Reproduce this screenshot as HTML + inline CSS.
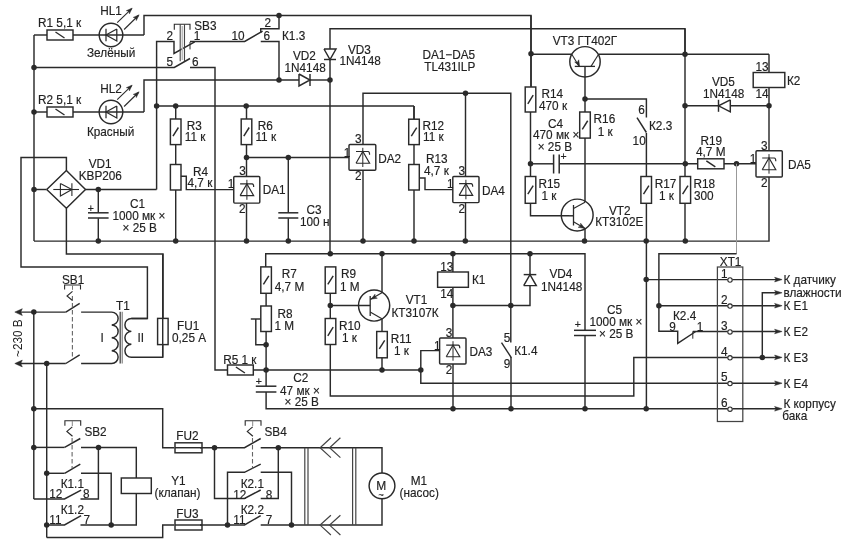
<!DOCTYPE html>
<html><head><meta charset="utf-8">
<style>
html,body{margin:0;padding:0;background:#fff;}
svg{display:block;font-family:"Liberation Sans",sans-serif;filter:blur(0.3px);}
</style></head>
<body>
<svg width="848" height="549" viewBox="0 0 848 549">
<rect x="0" y="0" width="848" height="549" fill="#fff"/>
<polyline points="34,35 34,241.1 34,241.1" fill="none" stroke="#2a2a2a" stroke-width="1.45"/>
<line x1="34" y1="35" x2="47" y2="35" stroke="#2a2a2a" stroke-width="1.45"/>
<rect x="47" y="30" width="26" height="10" fill="#fff" stroke="#2a2a2a" stroke-width="1.45"/>
<line x1="55.5" y1="32" x2="64.5" y2="38" stroke="#2a2a2a" stroke-width="1.45"/>
<line x1="73" y1="35" x2="144" y2="35" stroke="#2a2a2a" stroke-width="1.45"/>
<polyline points="144,35 144,15.5 531,15.5 531,86.5" fill="none" stroke="#2a2a2a" stroke-width="1.45"/>
<circle cx="111" cy="35" r="11.8" fill="none" stroke="#2a2a2a" stroke-width="1.45"/>
<line x1="106" y1="28.7" x2="106" y2="41.3" stroke="#2a2a2a" stroke-width="1.25"/>
<polyline points="116.8,29 106,35 116.8,41 116.8,29" fill="none" stroke="#2a2a2a" stroke-width="1.25"/>
<line x1="117.2" y1="22.7" x2="131.5" y2="8.8" stroke="#2a2a2a" stroke-width="1.1"/>
<polygon points="132.2,8.1 129.43,13.86 128.97,11.23 126.36,10.7" fill="#2a2a2a" stroke="#2a2a2a" stroke-width="0.5"/>
<line x1="124.1" y1="29.5" x2="138.4" y2="15.5" stroke="#2a2a2a" stroke-width="1.1"/>
<polygon points="139.1,14.8 136.33,20.56 135.87,17.93 133.26,17.4" fill="#2a2a2a" stroke="#2a2a2a" stroke-width="0.5"/>
<circle cx="34" cy="67.5" r="2.75" fill="#2a2a2a"/>
<polyline points="34,67.5 174.3,67.5 190,58.5" fill="none" stroke="#2a2a2a" stroke-width="1.45"/>
<line x1="34" y1="112" x2="47" y2="112" stroke="#2a2a2a" stroke-width="1.45"/>
<rect x="47" y="107" width="26" height="10" fill="#fff" stroke="#2a2a2a" stroke-width="1.45"/>
<line x1="55.5" y1="109" x2="64.5" y2="115" stroke="#2a2a2a" stroke-width="1.45"/>
<line x1="73" y1="112" x2="144" y2="112" stroke="#2a2a2a" stroke-width="1.45"/>
<polyline points="144,112 144,80 299,80" fill="none" stroke="#2a2a2a" stroke-width="1.45"/>
<circle cx="111" cy="112" r="11.8" fill="none" stroke="#2a2a2a" stroke-width="1.45"/>
<line x1="106" y1="105.7" x2="106" y2="118.3" stroke="#2a2a2a" stroke-width="1.25"/>
<polyline points="116.8,106 106,112 116.8,118 116.8,106" fill="none" stroke="#2a2a2a" stroke-width="1.25"/>
<line x1="117.2" y1="99.7" x2="131.5" y2="85.8" stroke="#2a2a2a" stroke-width="1.1"/>
<polygon points="132.2,85.1 129.43,90.86 128.97,88.23 126.36,87.7" fill="#2a2a2a" stroke="#2a2a2a" stroke-width="0.5"/>
<line x1="124.1" y1="106.5" x2="138.4" y2="92.5" stroke="#2a2a2a" stroke-width="1.1"/>
<polygon points="139.1,91.8 136.33,97.56 135.87,94.93 133.26,94.4" fill="#2a2a2a" stroke="#2a2a2a" stroke-width="0.5"/>
<circle cx="34" cy="112" r="2.75" fill="#2a2a2a"/>
<polyline points="156.6,189.5 156.6,41.5 174,41.5 174,53.4 194.7,41.9" fill="none" stroke="#2a2a2a" stroke-width="1.45"/>
<line x1="190" y1="41.9" x2="190" y2="49.4" stroke="#2a2a2a" stroke-width="1"/>
<polyline points="190,41.5 244.7,41.5 262.6,31.1" fill="none" stroke="#2a2a2a" stroke-width="1.45"/>
<polyline points="190,67.5 215,67.5 215,370 227.5,370" fill="none" stroke="#2a2a2a" stroke-width="1.45"/>
<line x1="180.2" y1="24.5" x2="180.2" y2="61.2" stroke="#444" stroke-width="1.1"/>
<line x1="184.5" y1="24.5" x2="184.5" y2="61.2" stroke="#444" stroke-width="1.1"/>
<line x1="182.35" y1="26" x2="182.35" y2="60" stroke="#bbb" stroke-width="1.6"/>
<polyline points="174.3,29.8 174.3,24.2 190,24.2 190,29.8" fill="none" stroke="#2a2a2a" stroke-width="1.1"/>
<polyline points="279,15.5 279,28.7 260.75,28.7 260.75,33" fill="none" stroke="#2a2a2a" stroke-width="1.45"/>
<polyline points="260.75,41.5 279,41.5 279,80" fill="none" stroke="#2a2a2a" stroke-width="1.45"/>
<circle cx="279" cy="15.5" r="2.75" fill="#2a2a2a"/>
<circle cx="279" cy="80" r="2.75" fill="#2a2a2a"/>
<line x1="310" y1="80" x2="330" y2="80" stroke="#2a2a2a" stroke-width="1.45"/>
<polyline points="299,74 310,80 299,86 299,74" fill="#fff" stroke="#2a2a2a" stroke-width="1.45"/>
<line x1="310" y1="74" x2="310" y2="86" stroke="#2a2a2a" stroke-width="1.45"/>
<circle cx="330" cy="80" r="2.75" fill="#2a2a2a"/>
<polyline points="685,54 685,28.7 330,28.7 330,253.25" fill="none" stroke="#2a2a2a" stroke-width="1.45"/>
<polyline points="324,49 330,59.5 336,49 324,49" fill="#fff" stroke="#2a2a2a" stroke-width="1.45"/>
<line x1="324" y1="59.5" x2="336" y2="59.5" stroke="#2a2a2a" stroke-width="1.45"/>
<line x1="156.6" y1="106" x2="414" y2="106" stroke="#2a2a2a" stroke-width="1.45"/>
<circle cx="156.6" cy="106" r="2.75" fill="#2a2a2a"/>
<circle cx="175.7" cy="106" r="2.75" fill="#2a2a2a"/>
<circle cx="246.2" cy="106" r="2.75" fill="#2a2a2a"/>
<line x1="414" y1="106" x2="414" y2="119.2" stroke="#2a2a2a" stroke-width="1.45"/>
<polyline points="363,144.5 363,93.2 510.8,93.2 510.8,342.6" fill="none" stroke="#2a2a2a" stroke-width="1.45"/>
<circle cx="465.5" cy="93.2" r="2.75" fill="#2a2a2a"/>
<line x1="175.7" y1="106" x2="175.7" y2="241.1" stroke="#2a2a2a" stroke-width="1.45"/>
<rect x="170.4" y="119" width="10.6" height="25.6" fill="#fff" stroke="#2a2a2a" stroke-width="1.45"/>
<line x1="173" y1="136.1" x2="178.4" y2="127.5" stroke="#2a2a2a" stroke-width="1.45"/>
<rect x="170.4" y="164.5" width="10.6" height="25.5" fill="#fff" stroke="#2a2a2a" stroke-width="1.45"/>
<polyline points="180.9,176.3 186.3,176.3 186.3,189.6 233.75,189.6" fill="none" stroke="#2a2a2a" stroke-width="1.45"/>
<line x1="34" y1="189.5" x2="46.7" y2="189.5" stroke="#2a2a2a" stroke-width="1.45"/>
<polyline points="46.7,189.5 66.4,170.4 85.5,189.5 66.4,208.3 46.7,189.5" fill="none" stroke="#2a2a2a" stroke-width="1.45"/>
<line x1="53.3" y1="189.5" x2="79" y2="189.5" stroke="#2a2a2a" stroke-width="1.1"/>
<polyline points="60.4,183.5 71.9,189.5 60.4,196 60.4,183.5" fill="none" stroke="#2a2a2a" stroke-width="1.1"/>
<line x1="71.9" y1="183.3" x2="71.9" y2="196" stroke="#2a2a2a" stroke-width="1.1"/>
<circle cx="34" cy="189.5" r="2.75" fill="#2a2a2a"/>
<polyline points="66.4,170.4 66.4,157.5 21,157.5 21,267 147.4,267 147.4,318.4 131.4,318.4" fill="none" stroke="#2a2a2a" stroke-width="1.45"/>
<polyline points="66.4,208.3 66.4,253.9 163,253.9 163,318.4" fill="none" stroke="#2a2a2a" stroke-width="1.45"/>
<polyline points="85.5,189.5 156.6,189.5" fill="none" stroke="#2a2a2a" stroke-width="1.45"/>
<circle cx="98.3" cy="189.5" r="2.75" fill="#2a2a2a"/>
<line x1="98.3" y1="189.5" x2="98.3" y2="212.5" stroke="#2a2a2a" stroke-width="1.45"/>
<line x1="98.3" y1="218.3" x2="98.3" y2="241.1" stroke="#2a2a2a" stroke-width="1.45"/>
<line x1="88" y1="212.8" x2="108.6" y2="212.8" stroke="#2a2a2a" stroke-width="1.5"/>
<line x1="88" y1="218" x2="108.6" y2="218" stroke="#2a2a2a" stroke-width="1.5"/>
<text transform="translate(87.8,211.5) scale(1,1.05)" font-size="10.5" fill="#222" stroke="#222" stroke-width="0.15">+</text>
<polyline points="34,241.1 769,241.1 769,177" fill="none" stroke="#2a2a2a" stroke-width="1.45"/>
<circle cx="98.3" cy="241.1" r="2.75" fill="#2a2a2a"/>
<circle cx="175.7" cy="241.1" r="2.75" fill="#2a2a2a"/>
<circle cx="246.5" cy="241.1" r="2.75" fill="#2a2a2a"/>
<circle cx="288.3" cy="241.1" r="2.75" fill="#2a2a2a"/>
<circle cx="363" cy="241.1" r="2.75" fill="#2a2a2a"/>
<circle cx="414" cy="241.1" r="2.75" fill="#2a2a2a"/>
<circle cx="465.3" cy="241.1" r="2.75" fill="#2a2a2a"/>
<circle cx="584.5" cy="241.1" r="2.75" fill="#2a2a2a"/>
<circle cx="646.2" cy="241.1" r="2.75" fill="#2a2a2a"/>
<circle cx="685.3" cy="241.1" r="2.75" fill="#2a2a2a"/>
<line x1="246.5" y1="106" x2="246.5" y2="176.5" stroke="#2a2a2a" stroke-width="1.45"/>
<rect x="241.2" y="119" width="10.6" height="25.6" fill="#fff" stroke="#2a2a2a" stroke-width="1.45"/>
<line x1="243.8" y1="136.1" x2="249.2" y2="127.5" stroke="#2a2a2a" stroke-width="1.45"/>
<line x1="246.5" y1="203" x2="246.5" y2="241.1" stroke="#2a2a2a" stroke-width="1.45"/>
<rect x="233.75" y="176.5" width="26.05" height="26.6" rx="1" fill="#fff" stroke="#2a2a2a" stroke-width="1.45"/>
<line x1="246.9" y1="179.8" x2="246.9" y2="199.8" stroke="#2a2a2a" stroke-width="1"/>
<polyline points="240.1,195.6 246.9,183.9 253.7,195.6 240.1,195.6" fill="none" stroke="#2a2a2a" stroke-width="1.15"/>
<path d="M240.1,183.9 L252.2,183.9 Q253.7,183.9 253.7,187.1" fill="none" stroke="#2a2a2a" stroke-width="1.15"/>
<line x1="246.5" y1="157.4" x2="349" y2="157.4" stroke="#2a2a2a" stroke-width="1.45"/>
<circle cx="246.5" cy="157.4" r="2.75" fill="#2a2a2a"/>
<circle cx="288.3" cy="157.4" r="2.75" fill="#2a2a2a"/>
<line x1="288.3" y1="157.4" x2="288.3" y2="212.5" stroke="#2a2a2a" stroke-width="1.45"/>
<line x1="288.3" y1="218.3" x2="288.3" y2="241.1" stroke="#2a2a2a" stroke-width="1.45"/>
<line x1="278.3" y1="212.8" x2="298.3" y2="212.8" stroke="#2a2a2a" stroke-width="1.5"/>
<line x1="278.3" y1="218" x2="298.3" y2="218" stroke="#2a2a2a" stroke-width="1.5"/>
<rect x="349" y="144.5" width="26.8" height="25.8" rx="1" fill="#fff" stroke="#2a2a2a" stroke-width="1.45"/>
<line x1="362.8" y1="147.8" x2="362.8" y2="167" stroke="#2a2a2a" stroke-width="1"/>
<polyline points="356,163.2 362.8,151.5 369.6,163.2 356,163.2" fill="none" stroke="#2a2a2a" stroke-width="1.15"/>
<path d="M356,151.5 L368.1,151.5 Q369.6,151.5 369.6,154.7" fill="none" stroke="#2a2a2a" stroke-width="1.15"/>
<line x1="363" y1="170.3" x2="363" y2="241.1" stroke="#2a2a2a" stroke-width="1.45"/>
<line x1="414" y1="106" x2="414" y2="241.1" stroke="#2a2a2a" stroke-width="1.45"/>
<rect x="408.7" y="119.2" width="10.6" height="25.4" fill="#fff" stroke="#2a2a2a" stroke-width="1.45"/>
<line x1="411.3" y1="136.2" x2="416.7" y2="127.6" stroke="#2a2a2a" stroke-width="1.45"/>
<rect x="408.7" y="164.5" width="10.6" height="25.5" fill="#fff" stroke="#2a2a2a" stroke-width="1.45"/>
<polyline points="419.3,178 425,178 425,189.6 452.8,189.6" fill="none" stroke="#2a2a2a" stroke-width="1.45"/>
<line x1="465.5" y1="93.2" x2="465.5" y2="176.5" stroke="#2a2a2a" stroke-width="1.45"/>
<line x1="465.5" y1="202.5" x2="465.5" y2="241.1" stroke="#2a2a2a" stroke-width="1.45"/>
<rect x="452.8" y="176.5" width="26.2" height="26.1" rx="1" fill="#fff" stroke="#2a2a2a" stroke-width="1.45"/>
<line x1="465.9" y1="179.8" x2="465.9" y2="199.3" stroke="#2a2a2a" stroke-width="1"/>
<polyline points="459.1,195.35 465.9,183.65 472.7,195.35 459.1,195.35" fill="none" stroke="#2a2a2a" stroke-width="1.15"/>
<path d="M459.1,183.65 L471.2,183.65 Q472.7,183.65 472.7,186.85" fill="none" stroke="#2a2a2a" stroke-width="1.15"/>
<line x1="531" y1="15.5" x2="531" y2="87" stroke="#2a2a2a" stroke-width="1.45"/>
<rect x="525.2" y="87" width="10.6" height="25" fill="#fff" stroke="#2a2a2a" stroke-width="1.45"/>
<line x1="527.8" y1="103.8" x2="533.2" y2="95.2" stroke="#2a2a2a" stroke-width="1.45"/>
<polyline points="530.5,112 530.5,176.5" fill="none" stroke="#2a2a2a" stroke-width="1.45"/>
<rect x="525.2" y="176.5" width="10.6" height="26.8" fill="#fff" stroke="#2a2a2a" stroke-width="1.45"/>
<line x1="527.8" y1="194.2" x2="533.2" y2="185.6" stroke="#2a2a2a" stroke-width="1.45"/>
<polyline points="530.5,203.3 530.5,215.8 569,215.8" fill="none" stroke="#2a2a2a" stroke-width="1.45"/>
<circle cx="531" cy="53.8" r="2.75" fill="#2a2a2a"/>
<circle cx="530.5" cy="163.8" r="2.75" fill="#2a2a2a"/>
<line x1="530.5" y1="163.8" x2="553.3" y2="163.8" stroke="#2a2a2a" stroke-width="1.45"/>
<line x1="553.6" y1="154.5" x2="553.6" y2="173.5" stroke="#2a2a2a" stroke-width="1.5"/>
<line x1="559.2" y1="154.5" x2="559.2" y2="173.5" stroke="#2a2a2a" stroke-width="1.5"/>
<line x1="559.2" y1="163.8" x2="756" y2="163.8" stroke="#2a2a2a" stroke-width="1.45"/>
<text transform="translate(560.5,159.8) scale(1,1.05)" font-size="10.5" fill="#222" stroke="#222" stroke-width="0.15">+</text>
<circle cx="585" cy="61.8" r="15.2" fill="none" stroke="#2a2a2a" stroke-width="1.45"/>
<line x1="531" y1="54.3" x2="571.8" y2="54.3" stroke="#2a2a2a" stroke-width="1.45"/>
<line x1="598.6" y1="54.3" x2="769" y2="54.3" stroke="#2a2a2a" stroke-width="1.45"/>
<line x1="574.8" y1="66.4" x2="595" y2="66.4" stroke="#2a2a2a" stroke-width="1.3"/>
<line x1="571.8" y1="54.3" x2="579" y2="66.2" stroke="#2a2a2a" stroke-width="1.1"/>
<polygon points="579.6,66.2 574.69,62.05 577.43,62.26 578.72,59.83" fill="#2a2a2a" stroke="#2a2a2a" stroke-width="0.5"/>
<line x1="591" y1="66.4" x2="598.6" y2="54.3" stroke="#2a2a2a" stroke-width="1.1"/>
<line x1="585" y1="66.4" x2="585" y2="138" stroke="#2a2a2a" stroke-width="1.45"/>
<circle cx="585" cy="99" r="2.75" fill="#2a2a2a"/>
<polyline points="585,99 646.4,99 646.4,117.4" fill="none" stroke="#2a2a2a" stroke-width="1.45"/>
<rect x="579.7" y="112" width="10.6" height="26.1" fill="#fff" stroke="#2a2a2a" stroke-width="1.45"/>
<line x1="582.3" y1="129.35" x2="587.7" y2="120.75" stroke="#2a2a2a" stroke-width="1.45"/>
<line x1="585" y1="138.1" x2="585" y2="202.2" stroke="#2a2a2a" stroke-width="1.45"/>
<circle cx="577.2" cy="215" r="15.9" fill="none" stroke="#2a2a2a" stroke-width="1.45"/>
<line x1="569" y1="215.8" x2="573.5" y2="215.8" stroke="#2a2a2a" stroke-width="1.45"/>
<line x1="573.5" y1="205" x2="573.5" y2="225.5" stroke="#2a2a2a" stroke-width="1.3"/>
<line x1="573.5" y1="208.5" x2="585" y2="202.2" stroke="#2a2a2a" stroke-width="1.1"/>
<line x1="573.5" y1="221.8" x2="585" y2="228.5" stroke="#2a2a2a" stroke-width="1.1"/>
<polygon points="585,228.5 578.17,227.31 580.67,225.99 580.58,223.16" fill="#2a2a2a" stroke="#2a2a2a" stroke-width="0.5"/>
<line x1="585" y1="228.5" x2="585" y2="241.1" stroke="#2a2a2a" stroke-width="1.45"/>
<line x1="637" y1="117.7" x2="646.4" y2="132.5" stroke="#2a2a2a" stroke-width="1.45"/>
<line x1="646.4" y1="133" x2="646.4" y2="409" stroke="#2a2a2a" stroke-width="1.45"/>
<rect x="640.9" y="176.5" width="10.6" height="26.8" fill="#fff" stroke="#2a2a2a" stroke-width="1.45"/>
<line x1="643.5" y1="194.2" x2="648.9" y2="185.6" stroke="#2a2a2a" stroke-width="1.45"/>
<polyline points="685,28.7 685,241.1" fill="none" stroke="#2a2a2a" stroke-width="1.45"/>
<circle cx="685" cy="54.3" r="2.75" fill="#2a2a2a"/>
<circle cx="685" cy="105.8" r="2.75" fill="#2a2a2a"/>
<circle cx="685.3" cy="163.8" r="2.75" fill="#2a2a2a"/>
<rect x="680" y="176.5" width="10.6" height="26.8" fill="#fff" stroke="#2a2a2a" stroke-width="1.45"/>
<line x1="682.6" y1="194.2" x2="688" y2="185.6" stroke="#2a2a2a" stroke-width="1.45"/>
<polyline points="769,54.3 769,72.5" fill="none" stroke="#2a2a2a" stroke-width="1.45"/>
<rect x="753.2" y="72.5" width="31.6" height="15" fill="#fff" stroke="#2a2a2a" stroke-width="1.45"/>
<line x1="769" y1="87.5" x2="769" y2="150.8" stroke="#2a2a2a" stroke-width="1.45"/>
<circle cx="769" cy="105.8" r="2.75" fill="#2a2a2a"/>
<line x1="685" y1="105.8" x2="718.5" y2="105.8" stroke="#2a2a2a" stroke-width="1.45"/>
<line x1="730" y1="105.8" x2="769" y2="105.8" stroke="#2a2a2a" stroke-width="1.45"/>
<polyline points="730.3,99.8 718.5,105.8 730.3,111.8 730.3,99.8" fill="#fff" stroke="#2a2a2a" stroke-width="1.45"/>
<line x1="718.5" y1="99.8" x2="718.5" y2="111.8" stroke="#2a2a2a" stroke-width="1.45"/>
<rect x="697.7" y="158.8" width="26.3" height="10" fill="#fff" stroke="#2a2a2a" stroke-width="1.45"/>
<line x1="706.35" y1="160.8" x2="715.35" y2="166.8" stroke="#2a2a2a" stroke-width="1.45"/>
<circle cx="736.5" cy="163.8" r="2.75" fill="#2a2a2a"/>
<rect x="756" y="150.8" width="26.3" height="26.2" rx="1" fill="#fff" stroke="#2a2a2a" stroke-width="1.45"/>
<line x1="769" y1="154.1" x2="769" y2="173.7" stroke="#2a2a2a" stroke-width="1"/>
<polyline points="762.2,169.7 769,158 775.8,169.7 762.2,169.7" fill="none" stroke="#2a2a2a" stroke-width="1.15"/>
<path d="M762.2,158 L774.3,158 Q775.8,158 775.8,161.2" fill="none" stroke="#2a2a2a" stroke-width="1.15"/>
<line x1="736.5" y1="163.8" x2="736.5" y2="253.8" stroke="#999" stroke-width="1"/>
<polyline points="736.5,253.8 658.9,253.8 658.9,331.3 677.7,331.3 677.7,343.4 695.7,331.5" fill="none" stroke="#2a2a2a" stroke-width="1.45"/>
<polyline points="265.7,266.9 265.7,253.7 585,253.7 585,330" fill="none" stroke="#2a2a2a" stroke-width="1.45"/>
<circle cx="330.3" cy="253.7" r="2.75" fill="#2a2a2a"/>
<circle cx="382" cy="253.7" r="2.75" fill="#2a2a2a"/>
<circle cx="452.9" cy="253.7" r="2.75" fill="#2a2a2a"/>
<circle cx="530" cy="253.7" r="2.75" fill="#2a2a2a"/>
<rect x="260.8" y="266.9" width="10.6" height="26.4" fill="#fff" stroke="#2a2a2a" stroke-width="1.45"/>
<line x1="263.4" y1="284.4" x2="268.8" y2="275.8" stroke="#2a2a2a" stroke-width="1.45"/>
<line x1="266.1" y1="293.3" x2="266.1" y2="306" stroke="#2a2a2a" stroke-width="1.45"/>
<rect x="260.8" y="306" width="10.6" height="25.5" fill="#fff" stroke="#2a2a2a" stroke-width="1.45"/>
<line x1="266.1" y1="331.5" x2="266.1" y2="386" stroke="#2a2a2a" stroke-width="1.45"/>
<polyline points="260.5,319 250.8,319" fill="none" stroke="#2a2a2a" stroke-width="1.45"/>
<polyline points="255.8,319 255.8,344.8 266.1,344.8" fill="none" stroke="#2a2a2a" stroke-width="1.45"/>
<circle cx="266.1" cy="344.8" r="2.75" fill="#2a2a2a"/>
<circle cx="266.1" cy="370" r="2.75" fill="#2a2a2a"/>
<rect x="325.2" y="266.9" width="10.6" height="26.4" fill="#fff" stroke="#2a2a2a" stroke-width="1.45"/>
<line x1="327.8" y1="284.4" x2="333.2" y2="275.8" stroke="#2a2a2a" stroke-width="1.45"/>
<line x1="330.3" y1="293.3" x2="330.3" y2="318.5" stroke="#2a2a2a" stroke-width="1.45"/>
<rect x="325.2" y="318.5" width="10.6" height="26" fill="#fff" stroke="#2a2a2a" stroke-width="1.45"/>
<line x1="327.8" y1="335.8" x2="333.2" y2="327.2" stroke="#2a2a2a" stroke-width="1.45"/>
<polyline points="330.3,344.5 330.3,396 633.8,396 633.8,357.4 727.7,357.4" fill="none" stroke="#2a2a2a" stroke-width="1.45"/>
<circle cx="330.3" cy="305.5" r="2.75" fill="#2a2a2a"/>
<line x1="330.3" y1="305.5" x2="370.2" y2="305.5" stroke="#2a2a2a" stroke-width="1.45"/>
<circle cx="374.1" cy="305.5" r="15.6" fill="none" stroke="#2a2a2a" stroke-width="1.45"/>
<line x1="370.2" y1="295.9" x2="370.2" y2="316" stroke="#2a2a2a" stroke-width="1.3"/>
<line x1="370.2" y1="299.6" x2="381.9" y2="292.8" stroke="#2a2a2a" stroke-width="1.1"/>
<polygon points="371,299.2 375.04,294.2 374.89,296.94 377.34,298.18" fill="#2a2a2a" stroke="#2a2a2a" stroke-width="0.5"/>
<line x1="370.2" y1="311.9" x2="381.9" y2="318.7" stroke="#2a2a2a" stroke-width="1.1"/>
<line x1="382" y1="253.7" x2="382" y2="292.8" stroke="#2a2a2a" stroke-width="1.45"/>
<line x1="382" y1="318.7" x2="382" y2="331.5" stroke="#2a2a2a" stroke-width="1.45"/>
<rect x="376.7" y="331.5" width="10.6" height="26.3" fill="#fff" stroke="#2a2a2a" stroke-width="1.45"/>
<line x1="379.3" y1="348.95" x2="384.7" y2="340.35" stroke="#2a2a2a" stroke-width="1.45"/>
<line x1="382" y1="357.8" x2="382" y2="370" stroke="#2a2a2a" stroke-width="1.45"/>
<circle cx="382" cy="370" r="2.75" fill="#2a2a2a"/>
<rect x="227.5" y="365" width="25.8" height="10" fill="#fff" stroke="#2a2a2a" stroke-width="1.45"/>
<line x1="235.9" y1="367" x2="244.9" y2="373" stroke="#2a2a2a" stroke-width="1.45"/>
<line x1="253.3" y1="370" x2="420.8" y2="370" stroke="#2a2a2a" stroke-width="1.45"/>
<circle cx="420.8" cy="370" r="2.75" fill="#2a2a2a"/>
<polyline points="439.6,350.6 420.8,350.6 420.8,383.2 727.7,383.2" fill="none" stroke="#2a2a2a" stroke-width="1.45"/>
<line x1="255.8" y1="386.2" x2="276.4" y2="386.2" stroke="#2a2a2a" stroke-width="1.5"/>
<line x1="255.8" y1="392" x2="276.4" y2="392" stroke="#2a2a2a" stroke-width="1.5"/>
<polyline points="266.1,392 266.1,408.8 727.7,408.8" fill="none" stroke="#2a2a2a" stroke-width="1.45"/>
<text transform="translate(255.8,384.8) scale(1,1.05)" font-size="10.5" fill="#222" stroke="#222" stroke-width="0.15">+</text>
<line x1="452.9" y1="253.7" x2="452.9" y2="272" stroke="#2a2a2a" stroke-width="1.45"/>
<rect x="437.6" y="272" width="30.8" height="15.3" fill="#fff" stroke="#2a2a2a" stroke-width="1.45"/>
<line x1="452.9" y1="287.3" x2="452.9" y2="338" stroke="#2a2a2a" stroke-width="1.45"/>
<circle cx="452.9" cy="305.4" r="2.75" fill="#2a2a2a"/>
<polyline points="452.9,305.4 530,305.4 530,253.7" fill="none" stroke="#2a2a2a" stroke-width="1.45"/>
<circle cx="510.8" cy="305.4" r="2.75" fill="#2a2a2a"/>
<polyline points="523.7,285.6 530,274.6 536.3,285.6 523.7,285.6" fill="#fff" stroke="#2a2a2a" stroke-width="1.45"/>
<line x1="523.7" y1="274.6" x2="536.3" y2="274.6" stroke="#2a2a2a" stroke-width="1.45"/>
<rect x="439.6" y="337.9" width="26.4" height="26.1" rx="1" fill="#fff" stroke="#2a2a2a" stroke-width="1.45"/>
<line x1="453" y1="341.2" x2="453" y2="360.7" stroke="#2a2a2a" stroke-width="1"/>
<polyline points="446.2,356.75 453,345.05 459.8,356.75 446.2,356.75" fill="none" stroke="#2a2a2a" stroke-width="1.15"/>
<path d="M446.2,345.05 L458.3,345.05 Q459.8,345.05 459.8,348.25" fill="none" stroke="#2a2a2a" stroke-width="1.15"/>
<line x1="453" y1="364" x2="453" y2="408.8" stroke="#2a2a2a" stroke-width="1.45"/>
<circle cx="453" cy="408.8" r="2.75" fill="#2a2a2a"/>
<line x1="501.5" y1="342.6" x2="511.3" y2="357.7" stroke="#2a2a2a" stroke-width="1.45"/>
<line x1="511" y1="357" x2="511" y2="408.8" stroke="#2a2a2a" stroke-width="1.45"/>
<circle cx="511" cy="408.8" r="2.75" fill="#2a2a2a"/>
<line x1="574" y1="330.3" x2="596" y2="330.3" stroke="#2a2a2a" stroke-width="1.5"/>
<line x1="574" y1="335.5" x2="596" y2="335.5" stroke="#2a2a2a" stroke-width="1.5"/>
<line x1="585" y1="335.5" x2="585" y2="408.8" stroke="#2a2a2a" stroke-width="1.45"/>
<circle cx="585" cy="408.8" r="2.75" fill="#2a2a2a"/>
<text transform="translate(574.8,328) scale(1,1.05)" font-size="10.5" fill="#222" stroke="#222" stroke-width="0.15">+</text>
<circle cx="646.2" cy="408.8" r="2.75" fill="#2a2a2a"/>
<circle cx="646.2" cy="279.6" r="2.75" fill="#2a2a2a"/>
<line x1="646.2" y1="279.6" x2="727.7" y2="279.6" stroke="#2a2a2a" stroke-width="1.45"/>
<circle cx="658.9" cy="305.7" r="2.75" fill="#2a2a2a"/>
<line x1="658.9" y1="305.7" x2="727.7" y2="305.7" stroke="#2a2a2a" stroke-width="1.45"/>
<line x1="692.8" y1="331.5" x2="727.7" y2="331.5" stroke="#2a2a2a" stroke-width="1.45"/>
<line x1="692.8" y1="331.5" x2="692.8" y2="338.7" stroke="#2a2a2a" stroke-width="1"/>
<rect x="717.4" y="267" width="25.4" height="154.5" fill="none" stroke="#444" stroke-width="1.25"/>
<circle cx="730" cy="280" r="2.2" fill="none" stroke="#2a2a2a" stroke-width="1.1"/>
<line x1="732.4" y1="279.6" x2="776" y2="279.6" stroke="#2a2a2a" stroke-width="1.45"/>
<polygon points="782.1,279.6 774.6,281.9 776.1,279.6 774.6,277.3" fill="#2a2a2a" stroke="#2a2a2a" stroke-width="0.5"/>
<circle cx="730" cy="306.1" r="2.2" fill="none" stroke="#2a2a2a" stroke-width="1.1"/>
<line x1="732.4" y1="305.7" x2="776" y2="305.7" stroke="#2a2a2a" stroke-width="1.45"/>
<polygon points="782.1,305.7 774.6,308 776.1,305.7 774.6,303.4" fill="#2a2a2a" stroke="#2a2a2a" stroke-width="0.5"/>
<circle cx="730" cy="331.9" r="2.2" fill="none" stroke="#2a2a2a" stroke-width="1.1"/>
<line x1="732.4" y1="331.5" x2="776" y2="331.5" stroke="#2a2a2a" stroke-width="1.45"/>
<polygon points="782.1,331.5 774.6,333.8 776.1,331.5 774.6,329.2" fill="#2a2a2a" stroke="#2a2a2a" stroke-width="0.5"/>
<circle cx="730" cy="357.8" r="2.2" fill="none" stroke="#2a2a2a" stroke-width="1.1"/>
<line x1="732.4" y1="357.4" x2="776" y2="357.4" stroke="#2a2a2a" stroke-width="1.45"/>
<polygon points="782.1,357.4 774.6,359.7 776.1,357.4 774.6,355.1" fill="#2a2a2a" stroke="#2a2a2a" stroke-width="0.5"/>
<circle cx="730" cy="383.6" r="2.2" fill="none" stroke="#2a2a2a" stroke-width="1.1"/>
<line x1="732.4" y1="383.2" x2="776" y2="383.2" stroke="#2a2a2a" stroke-width="1.45"/>
<polygon points="782.1,383.2 774.6,385.5 776.1,383.2 774.6,380.9" fill="#2a2a2a" stroke="#2a2a2a" stroke-width="0.5"/>
<circle cx="730" cy="409.2" r="2.2" fill="none" stroke="#2a2a2a" stroke-width="1.1"/>
<line x1="732.4" y1="408.8" x2="776" y2="408.8" stroke="#2a2a2a" stroke-width="1.45"/>
<polygon points="782.1,408.8 774.6,411.1 776.1,408.8 774.6,406.5" fill="#2a2a2a" stroke="#2a2a2a" stroke-width="0.5"/>
<polyline points="762.3,357.4 762.3,292.8 776,292.8" fill="none" stroke="#2a2a2a" stroke-width="1.45"/>
<polygon points="782.1,292.8 774.6,295.1 776.1,292.8 774.6,290.5" fill="#2a2a2a" stroke="#2a2a2a" stroke-width="0.5"/>
<circle cx="762.3" cy="357.4" r="2.75" fill="#2a2a2a"/>
<polygon points="14.8,312.1 22.3,308.7 20.8,312.1 22.3,315.5" fill="#2a2a2a" stroke="#2a2a2a" stroke-width="0.5"/>
<line x1="17" y1="312.1" x2="65.8" y2="312.1" stroke="#2a2a2a" stroke-width="1.45"/>
<line x1="65.8" y1="312.1" x2="79.7" y2="303.4" stroke="#2a2a2a" stroke-width="1.45"/>
<polygon points="14.8,363.5 22.3,360.1 20.8,363.5 22.3,366.9" fill="#2a2a2a" stroke="#2a2a2a" stroke-width="0.5"/>
<line x1="17" y1="363.5" x2="65.8" y2="363.5" stroke="#2a2a2a" stroke-width="1.45"/>
<line x1="65.8" y1="363.5" x2="79.7" y2="354.8" stroke="#2a2a2a" stroke-width="1.45"/>
<circle cx="33.8" cy="312.1" r="2.75" fill="#2a2a2a"/>
<circle cx="46.7" cy="363.5" r="2.75" fill="#2a2a2a"/>
<line x1="72.4" y1="296" x2="72.4" y2="358" stroke="#666" stroke-width="1.1" stroke-dasharray="4.5,2.5"/>
<polyline points="64.6,289.5 64.6,285 80.5,285 80.5,289.5" fill="none" stroke="#2a2a2a" stroke-width="1.1"/>
<polyline points="72.5,291.4 67,296 72.5,300.5" fill="none" stroke="#2a2a2a" stroke-width="1.1"/>
<line x1="72.5" y1="285.6" x2="72.5" y2="289.8" stroke="#777" stroke-width="1"/>
<path d="M81.1,312.1 L111.7,312.1 A6.42,6.42 0 0 1 111.7,324.95 A6.42,6.42 0 0 1 111.7,337.8 A6.42,6.42 0 0 1 111.7,350.65 A6.42,6.42 0 0 1 111.7,363.5 L81.1,363.5" fill="none" stroke="#2a2a2a" stroke-width="1.45"/>
<line x1="120.2" y1="311.8" x2="120.2" y2="363.5" stroke="#444" stroke-width="1.3"/>
<line x1="122.2" y1="311.8" x2="122.2" y2="363.5" stroke="#777" stroke-width="1.1"/>
<path d="M147.4,318.4 L131.4,318.4 A6.48,6.48 0 0 0 131.4,331.37 A6.48,6.48 0 0 0 131.4,344.34 A6.48,6.48 0 0 0 131.4,357.31 L162.7,357.3 L162.7,344.6" fill="none" stroke="#2a2a2a" stroke-width="1.45"/>
<rect x="157.6" y="318.4" width="10.5" height="26.2" fill="#fff" stroke="#2a2a2a" stroke-width="1.45"/>
<line x1="162.7" y1="253.9" x2="162.7" y2="357.3" stroke="#2a2a2a" stroke-width="1.45"/>
<line x1="33.8" y1="312.1" x2="33.8" y2="499" stroke="#2a2a2a" stroke-width="1.45"/>
<line x1="46.7" y1="363.5" x2="46.7" y2="537.5" stroke="#2a2a2a" stroke-width="1.45"/>
<polyline points="33.8,408.8 162.7,408.8 162.7,447.7 174.3,447.7" fill="none" stroke="#2a2a2a" stroke-width="1.45"/>
<circle cx="33.8" cy="408.8" r="2.75" fill="#2a2a2a"/>
<circle cx="33.8" cy="447.4" r="2.75" fill="#2a2a2a"/>
<line x1="33.8" y1="447.4" x2="64.6" y2="447.4" stroke="#2a2a2a" stroke-width="1.45"/>
<line x1="64.6" y1="447.4" x2="80.3" y2="438.5" stroke="#2a2a2a" stroke-width="1.45"/>
<polyline points="81,447.4 136.3,447.4 136.3,478" fill="none" stroke="#2a2a2a" stroke-width="1.45"/>
<circle cx="98.5" cy="447.4" r="2.75" fill="#2a2a2a"/>
<circle cx="46.7" cy="473.3" r="2.75" fill="#2a2a2a"/>
<line x1="46.7" y1="473.3" x2="64.6" y2="473.3" stroke="#2a2a2a" stroke-width="1.45"/>
<line x1="64.6" y1="473.3" x2="80.3" y2="464.2" stroke="#2a2a2a" stroke-width="1.45"/>
<polyline points="81,473.3 111.2,473.3 111.2,525" fill="none" stroke="#2a2a2a" stroke-width="1.45"/>
<line x1="72.1" y1="438" x2="72.1" y2="468.5" stroke="#666" stroke-width="1.1" stroke-dasharray="4.5,2.5"/>
<polyline points="64.9,425.7 64.9,420.7 80.7,420.7 80.7,425.7" fill="none" stroke="#2a2a2a" stroke-width="1.1"/>
<polyline points="72.3,426.9 66.9,431.4 72.5,436.2" fill="none" stroke="#2a2a2a" stroke-width="1.15"/>
<line x1="72.3" y1="421" x2="72.3" y2="426" stroke="#888" stroke-width="1"/>
<polyline points="33.8,499 64.5,499 81.1,490.1" fill="none" stroke="#2a2a2a" stroke-width="1.45"/>
<polyline points="80.5,499 98.4,499 98.4,447.4" fill="none" stroke="#2a2a2a" stroke-width="1.45"/>
<circle cx="46.7" cy="525" r="2.75" fill="#2a2a2a"/>
<polyline points="46.7,525 64.5,525 81.1,515.6" fill="none" stroke="#2a2a2a" stroke-width="1.45"/>
<polyline points="80.5,525 136.3,525 136.3,493.5" fill="none" stroke="#2a2a2a" stroke-width="1.45"/>
<circle cx="111.2" cy="525" r="2.75" fill="#2a2a2a"/>
<rect x="121.3" y="478" width="30" height="15.5" fill="#fff" stroke="#2a2a2a" stroke-width="1.45"/>
<polyline points="46.7,537.5 162.7,537.5 162.7,525 174.3,525" fill="none" stroke="#2a2a2a" stroke-width="1.45"/>
<rect x="175" y="442.8" width="27" height="10" fill="#fff" stroke="#2a2a2a" stroke-width="1.45"/>
<rect x="175" y="520" width="27" height="10" fill="#fff" stroke="#2a2a2a" stroke-width="1.45"/>
<line x1="175" y1="447.7" x2="202" y2="447.7" stroke="#2a2a2a" stroke-width="1.45"/>
<line x1="175" y1="525" x2="202" y2="525" stroke="#2a2a2a" stroke-width="1.45"/>
<polyline points="200,447.7 244.5,447.7 260.7,438.5" fill="none" stroke="#2a2a2a" stroke-width="1.45"/>
<polyline points="260.7,447.7 382,447.7 382,472.9" fill="none" stroke="#2a2a2a" stroke-width="1.45"/>
<circle cx="214.5" cy="447.7" r="2.75" fill="#2a2a2a"/>
<circle cx="278.3" cy="447.7" r="2.75" fill="#2a2a2a"/>
<polyline points="214.5,447.7 214.5,498.5 244.5,498.5 260.7,490" fill="none" stroke="#2a2a2a" stroke-width="1.45"/>
<polyline points="260.7,498.5 278.3,498.5 278.3,447.7" fill="none" stroke="#2a2a2a" stroke-width="1.45"/>
<polyline points="227.5,525 227.5,472.3 244.5,472.3 260.7,464.2" fill="none" stroke="#2a2a2a" stroke-width="1.45"/>
<polyline points="260.7,472.3 291.5,472.3 291.5,525" fill="none" stroke="#2a2a2a" stroke-width="1.45"/>
<line x1="252.5" y1="438" x2="252.5" y2="468.5" stroke="#666" stroke-width="1.1" stroke-dasharray="4.5,2.5"/>
<polyline points="245.2,425.7 245.2,420.7 261,420.7 261,425.7" fill="none" stroke="#2a2a2a" stroke-width="1.1"/>
<polyline points="252.7,426.9 247.3,431.4 252.9,436.2" fill="none" stroke="#2a2a2a" stroke-width="1.15"/>
<line x1="252.7" y1="421" x2="252.7" y2="426" stroke="#888" stroke-width="1"/>
<polyline points="200,525 244.5,525 260.7,515.6" fill="none" stroke="#2a2a2a" stroke-width="1.45"/>
<polyline points="260.7,525 382,525 382,498.7" fill="none" stroke="#2a2a2a" stroke-width="1.45"/>
<circle cx="227.5" cy="525" r="2.75" fill="#2a2a2a"/>
<circle cx="291.5" cy="525" r="2.75" fill="#2a2a2a"/>
<line x1="304.8" y1="447.7" x2="304.8" y2="525.1" stroke="#444" stroke-width="1.2"/>
<line x1="308" y1="447.7" x2="308" y2="525.1" stroke="#444" stroke-width="1.2"/>
<line x1="352.6" y1="447.7" x2="352.6" y2="525.1" stroke="#444" stroke-width="1.2"/>
<line x1="355.8" y1="447.7" x2="355.8" y2="525.1" stroke="#444" stroke-width="1.2"/>
<polyline points="330.9,437.8 320.1,447.7 330.9,457.6" fill="none" stroke="#444" stroke-width="1.2"/>
<polyline points="340.4,437.8 329.6,447.7 340.4,457.6" fill="none" stroke="#444" stroke-width="1.2"/>
<polyline points="330.9,515.2 320.1,525.1 330.9,535" fill="none" stroke="#444" stroke-width="1.2"/>
<polyline points="340.4,515.2 329.6,525.1 340.4,535" fill="none" stroke="#444" stroke-width="1.2"/>
<circle cx="382" cy="485.8" r="12.9" fill="none" stroke="#2a2a2a" stroke-width="1.45"/>
<text transform="translate(376.3,489.5) scale(1,1.05)" font-size="12" fill="#222" stroke="#222" stroke-width="0.15">M</text>
<text transform="translate(378.5,498) scale(1,1.05)" font-size="9" fill="#222" stroke="#222" stroke-width="0.15">~</text>
<text transform="translate(38,26.5) scale(1,1.05)" font-size="11.8" fill="#222" stroke="#222" stroke-width="0.15">R1 5,1 к</text>
<text transform="translate(100.2,15.2) scale(1,1.05)" font-size="11.8" fill="#222" stroke="#222" stroke-width="0.15">HL1</text>
<text transform="translate(87,56.5) scale(1,1.05)" font-size="11.8" fill="#222" stroke="#222" stroke-width="0.15">Зелёный</text>
<text transform="translate(100.2,93.3) scale(1,1.05)" font-size="11.8" fill="#222" stroke="#222" stroke-width="0.15">HL2</text>
<text transform="translate(38,104) scale(1,1.05)" font-size="11.8" fill="#222" stroke="#222" stroke-width="0.15">R2 5,1 к</text>
<text transform="translate(86.9,136.2) scale(1,1.05)" font-size="11.8" fill="#222" stroke="#222" stroke-width="0.15">Красный</text>
<text transform="translate(194.2,30) scale(1,1.05)" font-size="11.8" fill="#222" stroke="#222" stroke-width="0.15">SB3</text>
<text transform="translate(166.4,40.2) scale(1,1.05)" font-size="11.8" fill="#222" stroke="#222" stroke-width="0.15">2</text>
<text transform="translate(193.8,40) scale(1,1.05)" font-size="11.8" fill="#222" stroke="#222" stroke-width="0.15">1</text>
<text transform="translate(166.4,66) scale(1,1.05)" font-size="11.8" fill="#222" stroke="#222" stroke-width="0.15">5</text>
<text transform="translate(191.9,66) scale(1,1.05)" font-size="11.8" fill="#222" stroke="#222" stroke-width="0.15">6</text>
<text transform="translate(231.5,40) scale(1,1.05)" font-size="11.8" fill="#222" stroke="#222" stroke-width="0.15">10</text>
<text transform="translate(263.6,40) scale(1,1.05)" font-size="11.8" fill="#222" stroke="#222" stroke-width="0.15">6</text>
<text transform="translate(264.5,26.8) scale(1,1.05)" font-size="11.8" fill="#222" stroke="#222" stroke-width="0.15">2</text>
<text transform="translate(282,40) scale(1,1.05)" font-size="11.8" fill="#222" stroke="#222" stroke-width="0.15">К1.3</text>
<text transform="translate(293,60) scale(1,1.05)" font-size="11.8" fill="#222" stroke="#222" stroke-width="0.15">VD2</text>
<text transform="translate(284.5,72.3) scale(1,1.05)" font-size="11.8" fill="#222" stroke="#222" stroke-width="0.15">1N4148</text>
<text transform="translate(348,54) scale(1,1.05)" font-size="11.8" fill="#222" stroke="#222" stroke-width="0.15">VD3</text>
<text transform="translate(339.5,65) scale(1,1.05)" font-size="11.8" fill="#222" stroke="#222" stroke-width="0.15">1N4148</text>
<text transform="translate(422.4,59) scale(1,1.05)" font-size="11.8" fill="#222" stroke="#222" stroke-width="0.15">DA1−DA5</text>
<text transform="translate(424.2,71) scale(1,1.05)" font-size="11.8" fill="#222" stroke="#222" stroke-width="0.15">TL431ILP</text>
<text transform="translate(552.7,45.3) scale(1,1.05)" font-size="11.8" fill="#222" stroke="#222" stroke-width="0.15">VT3 ГТ402Г</text>
<text transform="translate(541.5,98) scale(1,1.05)" font-size="11.8" fill="#222" stroke="#222" stroke-width="0.15">R14</text>
<text transform="translate(539,110) scale(1,1.05)" font-size="11.8" fill="#222" stroke="#222" stroke-width="0.15">470 к</text>
<text transform="translate(593.6,123.4) scale(1,1.05)" font-size="11.8" fill="#222" stroke="#222" stroke-width="0.15">R16</text>
<text transform="translate(597.7,135.5) scale(1,1.05)" font-size="11.8" fill="#222" stroke="#222" stroke-width="0.15">1 к</text>
<text transform="translate(548,127.5) scale(1,1.05)" font-size="11.8" fill="#222" stroke="#222" stroke-width="0.15">C4</text>
<text transform="translate(533,139) scale(1,1.05)" font-size="11.8" fill="#222" stroke="#222" stroke-width="0.15">470 мк ×</text>
<text transform="translate(537.7,150.5) scale(1,1.05)" font-size="11.8" fill="#222" stroke="#222" stroke-width="0.15">× 25 В</text>
<text transform="translate(638.3,114.3) scale(1,1.05)" font-size="11.8" fill="#222" stroke="#222" stroke-width="0.15">6</text>
<text transform="translate(649,130) scale(1,1.05)" font-size="11.8" fill="#222" stroke="#222" stroke-width="0.15">К2.3</text>
<text transform="translate(632.6,145) scale(1,1.05)" font-size="11.8" fill="#222" stroke="#222" stroke-width="0.15">10</text>
<text transform="translate(712,86) scale(1,1.05)" font-size="11.8" fill="#222" stroke="#222" stroke-width="0.15">VD5</text>
<text transform="translate(703,97.5) scale(1,1.05)" font-size="11.8" fill="#222" stroke="#222" stroke-width="0.15">1N4148</text>
<text transform="translate(755.5,71) scale(1,1.05)" font-size="11.8" fill="#222" stroke="#222" stroke-width="0.15">13</text>
<text transform="translate(755.5,97.5) scale(1,1.05)" font-size="11.8" fill="#222" stroke="#222" stroke-width="0.15">14</text>
<text transform="translate(787,84.5) scale(1,1.05)" font-size="11.8" fill="#222" stroke="#222" stroke-width="0.15">К2</text>
<text transform="translate(186.7,129.7) scale(1,1.05)" font-size="11.8" fill="#222" stroke="#222" stroke-width="0.15">R3</text>
<text transform="translate(184.8,141.3) scale(1,1.05)" font-size="11.8" fill="#222" stroke="#222" stroke-width="0.15">11 к</text>
<text transform="translate(257.7,129.7) scale(1,1.05)" font-size="11.8" fill="#222" stroke="#222" stroke-width="0.15">R6</text>
<text transform="translate(255.4,141.3) scale(1,1.05)" font-size="11.8" fill="#222" stroke="#222" stroke-width="0.15">11 к</text>
<text transform="translate(422.4,130.1) scale(1,1.05)" font-size="11.8" fill="#222" stroke="#222" stroke-width="0.15">R12</text>
<text transform="translate(423,141.3) scale(1,1.05)" font-size="11.8" fill="#222" stroke="#222" stroke-width="0.15">11 к</text>
<text transform="translate(88.7,168) scale(1,1.05)" font-size="11.8" fill="#222" stroke="#222" stroke-width="0.15">VD1</text>
<text transform="translate(78.7,179.5) scale(1,1.05)" font-size="11.8" fill="#222" stroke="#222" stroke-width="0.15">KBP206</text>
<text transform="translate(130,207.5) scale(1,1.05)" font-size="11.8" fill="#222" stroke="#222" stroke-width="0.15">C1</text>
<text transform="translate(112.5,220) scale(1,1.05)" font-size="11.8" fill="#222" stroke="#222" stroke-width="0.15">1000 мк ×</text>
<text transform="translate(122.5,231.5) scale(1,1.05)" font-size="11.8" fill="#222" stroke="#222" stroke-width="0.15">× 25 В</text>
<text transform="translate(193,175.7) scale(1,1.05)" font-size="11.8" fill="#222" stroke="#222" stroke-width="0.15">R4</text>
<text transform="translate(187.5,187) scale(1,1.05)" font-size="11.8" fill="#222" stroke="#222" stroke-width="0.15">4,7 к</text>
<text transform="translate(239.2,175.2) scale(1,1.05)" font-size="11.8" fill="#222" stroke="#222" stroke-width="0.15">3</text>
<text transform="translate(227.7,188.3) scale(1,1.05)" font-size="11.8" fill="#222" stroke="#222" stroke-width="0.15">1</text>
<text transform="translate(239,213.2) scale(1,1.05)" font-size="11.8" fill="#222" stroke="#222" stroke-width="0.15">2</text>
<text transform="translate(262.7,193.8) scale(1,1.05)" font-size="11.8" fill="#222" stroke="#222" stroke-width="0.15">DA1</text>
<text transform="translate(306.5,214) scale(1,1.05)" font-size="11.8" fill="#222" stroke="#222" stroke-width="0.15">C3</text>
<text transform="translate(300,225.7) scale(1,1.05)" font-size="11.8" fill="#222" stroke="#222" stroke-width="0.15">100 н</text>
<text transform="translate(355,143) scale(1,1.05)" font-size="11.8" fill="#222" stroke="#222" stroke-width="0.15">3</text>
<text transform="translate(343.7,156.5) scale(1,1.05)" font-size="11.8" fill="#222" stroke="#222" stroke-width="0.15">1</text>
<text transform="translate(355,180) scale(1,1.05)" font-size="11.8" fill="#222" stroke="#222" stroke-width="0.15">2</text>
<text transform="translate(378.2,162.7) scale(1,1.05)" font-size="11.8" fill="#222" stroke="#222" stroke-width="0.15">DA2</text>
<text transform="translate(426,162.7) scale(1,1.05)" font-size="11.8" fill="#222" stroke="#222" stroke-width="0.15">R13</text>
<text transform="translate(424,174.5) scale(1,1.05)" font-size="11.8" fill="#222" stroke="#222" stroke-width="0.15">4,7 к</text>
<text transform="translate(458.5,175) scale(1,1.05)" font-size="11.8" fill="#222" stroke="#222" stroke-width="0.15">3</text>
<text transform="translate(447,188) scale(1,1.05)" font-size="11.8" fill="#222" stroke="#222" stroke-width="0.15">1</text>
<text transform="translate(458.5,213) scale(1,1.05)" font-size="11.8" fill="#222" stroke="#222" stroke-width="0.15">2</text>
<text transform="translate(482,194.5) scale(1,1.05)" font-size="11.8" fill="#222" stroke="#222" stroke-width="0.15">DA4</text>
<text transform="translate(538.5,188.2) scale(1,1.05)" font-size="11.8" fill="#222" stroke="#222" stroke-width="0.15">R15</text>
<text transform="translate(541.5,200) scale(1,1.05)" font-size="11.8" fill="#222" stroke="#222" stroke-width="0.15">1 к</text>
<text transform="translate(609,214.5) scale(1,1.05)" font-size="11.8" fill="#222" stroke="#222" stroke-width="0.15">VT2</text>
<text transform="translate(595.2,225.7) scale(1,1.05)" font-size="11.8" fill="#222" stroke="#222" stroke-width="0.15">КТ3102Е</text>
<text transform="translate(654.7,188.2) scale(1,1.05)" font-size="11.8" fill="#222" stroke="#222" stroke-width="0.15">R17</text>
<text transform="translate(659,200) scale(1,1.05)" font-size="11.8" fill="#222" stroke="#222" stroke-width="0.15">1 к</text>
<text transform="translate(693.5,188.2) scale(1,1.05)" font-size="11.8" fill="#222" stroke="#222" stroke-width="0.15">R18</text>
<text transform="translate(694,200) scale(1,1.05)" font-size="11.8" fill="#222" stroke="#222" stroke-width="0.15">300</text>
<text transform="translate(700.5,144.5) scale(1,1.05)" font-size="11.8" fill="#222" stroke="#222" stroke-width="0.15">R19</text>
<text transform="translate(696,155.7) scale(1,1.05)" font-size="11.8" fill="#222" stroke="#222" stroke-width="0.15">4,7 М</text>
<text transform="translate(761,149.5) scale(1,1.05)" font-size="11.8" fill="#222" stroke="#222" stroke-width="0.15">3</text>
<text transform="translate(749.7,163.2) scale(1,1.05)" font-size="11.8" fill="#222" stroke="#222" stroke-width="0.15">1</text>
<text transform="translate(761,187) scale(1,1.05)" font-size="11.8" fill="#222" stroke="#222" stroke-width="0.15">2</text>
<text transform="translate(788,169) scale(1,1.05)" font-size="11.8" fill="#222" stroke="#222" stroke-width="0.15">DA5</text>
<text transform="translate(719.8,265.5) scale(1,1.05)" font-size="11.8" fill="#222" stroke="#222" stroke-width="0.15">XT1</text>
<text transform="translate(281.7,278.1) scale(1,1.05)" font-size="11.8" fill="#222" stroke="#222" stroke-width="0.15">R7</text>
<text transform="translate(274.8,290.5) scale(1,1.05)" font-size="11.8" fill="#222" stroke="#222" stroke-width="0.15">4,7 М</text>
<text transform="translate(341.1,278.1) scale(1,1.05)" font-size="11.8" fill="#222" stroke="#222" stroke-width="0.15">R9</text>
<text transform="translate(340,290.5) scale(1,1.05)" font-size="11.8" fill="#222" stroke="#222" stroke-width="0.15">1 М</text>
<text transform="translate(62,283.5) scale(1,1.05)" font-size="11.8" fill="#222" stroke="#222" stroke-width="0.15">SB1</text>
<text transform="translate(116.1,310.4) scale(1,1.05)" font-size="11.8" fill="#222" stroke="#222" stroke-width="0.15">T1</text>
<text transform="translate(100.6,341.7) scale(1,1.05)" font-size="11.8" fill="#222" stroke="#222" stroke-width="0.15">I</text>
<text transform="translate(137.6,341.7) scale(1,1.05)" font-size="11.8" fill="#222" stroke="#222" stroke-width="0.15">II</text>
<text transform="translate(177,329.5) scale(1,1.05)" font-size="11.8" fill="#222" stroke="#222" stroke-width="0.15">FU1</text>
<text transform="translate(172,342) scale(1,1.05)" font-size="11.8" fill="#222" stroke="#222" stroke-width="0.15">0,25 А</text>
<text transform="translate(277.5,317.7) scale(1,1.05)" font-size="11.8" fill="#222" stroke="#222" stroke-width="0.15">R8</text>
<text transform="translate(274.5,329.5) scale(1,1.05)" font-size="11.8" fill="#222" stroke="#222" stroke-width="0.15">1 М</text>
<text transform="translate(339,330.2) scale(1,1.05)" font-size="11.8" fill="#222" stroke="#222" stroke-width="0.15">R10</text>
<text transform="translate(342,342) scale(1,1.05)" font-size="11.8" fill="#222" stroke="#222" stroke-width="0.15">1 к</text>
<text transform="translate(390.7,342.7) scale(1,1.05)" font-size="11.8" fill="#222" stroke="#222" stroke-width="0.15">R11</text>
<text transform="translate(394,355.2) scale(1,1.05)" font-size="11.8" fill="#222" stroke="#222" stroke-width="0.15">1 к</text>
<text transform="translate(405.7,303.5) scale(1,1.05)" font-size="11.8" fill="#222" stroke="#222" stroke-width="0.15">VT1</text>
<text transform="translate(391.5,316.5) scale(1,1.05)" font-size="11.8" fill="#222" stroke="#222" stroke-width="0.15">КТ3107К</text>
<text transform="translate(223.2,363.5) scale(1,1.05)" font-size="11.8" fill="#222" stroke="#222" stroke-width="0.15">R5 1 к</text>
<text transform="translate(293.2,382) scale(1,1.05)" font-size="11.8" fill="#222" stroke="#222" stroke-width="0.15">C2</text>
<text transform="translate(280,394.5) scale(1,1.05)" font-size="11.8" fill="#222" stroke="#222" stroke-width="0.15">47 мк ×</text>
<text transform="translate(284.5,406) scale(1,1.05)" font-size="11.8" fill="#222" stroke="#222" stroke-width="0.15">× 25 В</text>
<text transform="translate(440.2,270.8) scale(1,1.05)" font-size="11.8" fill="#222" stroke="#222" stroke-width="0.15">13</text>
<text transform="translate(440.2,297.5) scale(1,1.05)" font-size="11.8" fill="#222" stroke="#222" stroke-width="0.15">14</text>
<text transform="translate(472,284.1) scale(1,1.05)" font-size="11.8" fill="#222" stroke="#222" stroke-width="0.15">К1</text>
<text transform="translate(549.5,278.4) scale(1,1.05)" font-size="11.8" fill="#222" stroke="#222" stroke-width="0.15">VD4</text>
<text transform="translate(541,290.5) scale(1,1.05)" font-size="11.8" fill="#222" stroke="#222" stroke-width="0.15">1N4148</text>
<text transform="translate(445.7,337) scale(1,1.05)" font-size="11.8" fill="#222" stroke="#222" stroke-width="0.15">3</text>
<text transform="translate(434,349.8) scale(1,1.05)" font-size="11.8" fill="#222" stroke="#222" stroke-width="0.15">1</text>
<text transform="translate(445.7,373.8) scale(1,1.05)" font-size="11.8" fill="#222" stroke="#222" stroke-width="0.15">2</text>
<text transform="translate(469.4,355.8) scale(1,1.05)" font-size="11.8" fill="#222" stroke="#222" stroke-width="0.15">DA3</text>
<text transform="translate(503.8,342.3) scale(1,1.05)" font-size="11.8" fill="#222" stroke="#222" stroke-width="0.15">5</text>
<text transform="translate(503.8,368.1) scale(1,1.05)" font-size="11.8" fill="#222" stroke="#222" stroke-width="0.15">9</text>
<text transform="translate(514.2,354.9) scale(1,1.05)" font-size="11.8" fill="#222" stroke="#222" stroke-width="0.15">К1.4</text>
<text transform="translate(607,314) scale(1,1.05)" font-size="11.8" fill="#222" stroke="#222" stroke-width="0.15">C5</text>
<text transform="translate(589.5,326) scale(1,1.05)" font-size="11.8" fill="#222" stroke="#222" stroke-width="0.15">1000 мк ×</text>
<text transform="translate(599,337.7) scale(1,1.05)" font-size="11.8" fill="#222" stroke="#222" stroke-width="0.15">× 25 В</text>
<text transform="translate(673,320.2) scale(1,1.05)" font-size="11.8" fill="#222" stroke="#222" stroke-width="0.15">К2.4</text>
<text transform="translate(669.2,330.9) scale(1,1.05)" font-size="11.8" fill="#222" stroke="#222" stroke-width="0.15">9</text>
<text transform="translate(696.8,330.9) scale(1,1.05)" font-size="11.8" fill="#222" stroke="#222" stroke-width="0.15">1</text>
<text transform="translate(721,278.3) scale(1,1.05)" font-size="11.8" fill="#222" stroke="#222" stroke-width="0.15">1</text>
<text transform="translate(721,303.8) scale(1,1.05)" font-size="11.8" fill="#222" stroke="#222" stroke-width="0.15">2</text>
<text transform="translate(721,329.6) scale(1,1.05)" font-size="11.8" fill="#222" stroke="#222" stroke-width="0.15">3</text>
<text transform="translate(721,356) scale(1,1.05)" font-size="11.8" fill="#222" stroke="#222" stroke-width="0.15">4</text>
<text transform="translate(721,381.3) scale(1,1.05)" font-size="11.8" fill="#222" stroke="#222" stroke-width="0.15">5</text>
<text transform="translate(721,407.4) scale(1,1.05)" font-size="11.8" fill="#222" stroke="#222" stroke-width="0.15">6</text>
<text transform="translate(783.4,284.1) scale(1,1.05)" font-size="11.8" fill="#222" stroke="#222" stroke-width="0.15">К датчику</text>
<text transform="translate(783.4,296.6) scale(1,1.05)" font-size="11.8" fill="#222" stroke="#222" stroke-width="0.15">влажности</text>
<text transform="translate(783.4,310) scale(1,1.05)" font-size="11.8" fill="#222" stroke="#222" stroke-width="0.15">К Е1</text>
<text transform="translate(783.4,336) scale(1,1.05)" font-size="11.8" fill="#222" stroke="#222" stroke-width="0.15">К Е2</text>
<text transform="translate(783.4,362) scale(1,1.05)" font-size="11.8" fill="#222" stroke="#222" stroke-width="0.15">К Е3</text>
<text transform="translate(783.4,387.5) scale(1,1.05)" font-size="11.8" fill="#222" stroke="#222" stroke-width="0.15">К Е4</text>
<text transform="translate(783.4,407.5) scale(1,1.05)" font-size="11.8" fill="#222" stroke="#222" stroke-width="0.15">К корпусу</text>
<text transform="translate(782.2,419.8) scale(1,1.05)" font-size="11.8" fill="#222" stroke="#222" stroke-width="0.15">бака</text>
<text transform="translate(84.4,435.8) scale(1,1.05)" font-size="11.8" fill="#222" stroke="#222" stroke-width="0.15">SB2</text>
<text transform="translate(264.5,436) scale(1,1.05)" font-size="11.8" fill="#222" stroke="#222" stroke-width="0.15">SB4</text>
<text transform="translate(60.7,488.4) scale(1,1.05)" font-size="11.8" fill="#222" stroke="#222" stroke-width="0.15">К1.1</text>
<text transform="translate(49.2,498) scale(1,1.05)" font-size="11.8" fill="#222" stroke="#222" stroke-width="0.15">12</text>
<text transform="translate(83,498) scale(1,1.05)" font-size="11.8" fill="#222" stroke="#222" stroke-width="0.15">8</text>
<text transform="translate(60.7,513.9) scale(1,1.05)" font-size="11.8" fill="#222" stroke="#222" stroke-width="0.15">К1.2</text>
<text transform="translate(49.2,524) scale(1,1.05)" font-size="11.8" fill="#222" stroke="#222" stroke-width="0.15">11</text>
<text transform="translate(83.4,524) scale(1,1.05)" font-size="11.8" fill="#222" stroke="#222" stroke-width="0.15">7</text>
<text transform="translate(240.7,488) scale(1,1.05)" font-size="11.8" fill="#222" stroke="#222" stroke-width="0.15">К2.1</text>
<text transform="translate(233.2,498.5) scale(1,1.05)" font-size="11.8" fill="#222" stroke="#222" stroke-width="0.15">12</text>
<text transform="translate(265.7,498.5) scale(1,1.05)" font-size="11.8" fill="#222" stroke="#222" stroke-width="0.15">8</text>
<text transform="translate(240.7,514) scale(1,1.05)" font-size="11.8" fill="#222" stroke="#222" stroke-width="0.15">К2.2</text>
<text transform="translate(233.2,524) scale(1,1.05)" font-size="11.8" fill="#222" stroke="#222" stroke-width="0.15">11</text>
<text transform="translate(265.7,524) scale(1,1.05)" font-size="11.8" fill="#222" stroke="#222" stroke-width="0.15">7</text>
<text transform="translate(176.2,440.2) scale(1,1.05)" font-size="11.8" fill="#222" stroke="#222" stroke-width="0.15">FU2</text>
<text transform="translate(176.2,517.7) scale(1,1.05)" font-size="11.8" fill="#222" stroke="#222" stroke-width="0.15">FU3</text>
<text transform="translate(171.2,484.7) scale(1,1.05)" font-size="11.8" fill="#222" stroke="#222" stroke-width="0.15">Y1</text>
<text transform="translate(154.5,496.5) scale(1,1.05)" font-size="11.8" fill="#222" stroke="#222" stroke-width="0.15">(клапан)</text>
<text transform="translate(410.7,484.7) scale(1,1.05)" font-size="11.8" fill="#222" stroke="#222" stroke-width="0.15">M1</text>
<text transform="translate(399.5,496.5) scale(1,1.05)" font-size="11.8" fill="#222" stroke="#222" stroke-width="0.15">(насос)</text>
<text transform="translate(22.3,357) rotate(-90) scale(1,1.05)" font-size="11.8" fill="#222">~230 В</text>
</svg>
</body></html>
